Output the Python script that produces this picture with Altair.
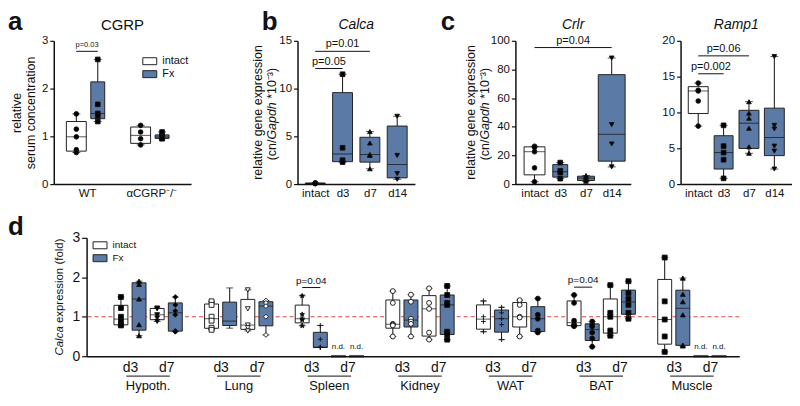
import altair as alt
import numpy as np
import pandas as pd

FONT = "Liberation Sans"
BLUE = "#5b7ba6"
EDGE = "#222222"
INK = "#111111"
RED = "#e5453e"
RECT = "M-1,-0.5L1,-0.5L1,0.5L-1,0.5Z"
STAR = "M0,-1L0.24,-0.31L0.95,-0.31L0.38,0.12L0.59,0.81L0,0.4L-0.59,0.81L-0.38,0.12L-0.95,-0.31L-0.24,-0.31Z"
PLUS = "M-1,0L1,0M0,-1L0,1"

# ================= DATA =================
# --- a: CGRP serum concentration
a_groups = ["WT", "αCGRP⁻/⁻"]
a_conds = ["intact", "Fx"]
a_wt_intact = [1.47, 1.15, 0.99, 0.72, 0.66]
a_wt_fx = [2.61, 1.67, 1.48, 1.43, 1.31]
a_ko_intact = [1.23, 1.09, 0.95, 0.82]
a_ko_fx = [1.09, 1.01, 0.99, 0.98, 0.96, 0.95]
a_pvals = [("WT", "p=0.03", 2.78)]

# --- b: Calca
b_cats = ["intact", "d3", "d7", "d14"]
b_intact = [0.12, 0.10, 0.08, 0.06, 0.05]
b_d3 = [11.5, 3.8, 2.5, 2.3]
b_d7 = [5.5, 4.3, 3.1, 3.0, 1.6]
b_d14 = [7.1, 3.0, 1.1, 0.5]
b_pvals = [("intact", "d7", 13.9, "p=0.01"), ("intact", "d3", 12.1, "p=0.05")]

# --- c: Crlr
crlr_intact = [26.4, 25.6, 22.6, 11.3, 1.6]
crlr_d3 = [15.0, 9.3, 8.0, 3.8]
crlr_d7 = [6.0, 5.0, 4.2, 3.0, 2.0]
crlr_d14 = [88.0, 41.5, 28.0, 12.0]
crlr_pvals = [("intact", "d14", 95.3, "p=0.04")]

# --- c: Ramp1
ramp_intact = [14.1, 13.1, 13.0, 11.6, 8.1]
ramp_d3 = [8.2, 5.3, 4.4, 3.4, 0.8]
ramp_d7 = [11.5, 9.9, 9.2, 7.8, 5.2, 4.3]
ramp_d14 = [17.8, 8.2, 7.7, 5.3, 4.6, 2.1]
ramp_pvals = [("intact", "d7", 17.9, "p=0.06"), ("intact", "d3", 15.4, "p=0.002")]

# --- d: Calca expression in tissues (order: d3 intact, d3 Fx, d7 intact, d7 Fx); None = n.d.
d_groups = ["Hypoth.", "Lung", "Spleen", "Kidney", "WAT", "BAT", "Muscle"]
d_days = ["d3", "d7"]
d_conds = ["intact", "Fx"]
d_hypoth = [[1.5, 1.22, 1.0, 0.88, 0.8, 0.78], [1.9, 1.82, 1.45, 0.8, 0.52],
            [1.22, 1.2, 1.05, 0.97, 0.88], [1.5, 1.3, 1.15, 1.05, 0.64, 0.62]]
d_lung = [[1.39, 1.3, 1.0, 0.9, 0.72, 0.67], [1.73, 1.25, 0.9, 0.88, 0.8, 0.71],
          [1.68, 1.2, 0.79, 0.72, 0.64], [1.41, 1.35, 1.27, 1.0, 0.54]]
d_spleen = [[1.53, 1.06, 0.95, 0.92, 0.77], [0.78, 0.43, 0.23, 0.22, 0.22], None, None]
d_kidney = [[1.65, 1.35, 0.82, 0.8, 0.78, 0.5], [1.56, 1.38, 0.95, 0.88, 0.82, 0.5],
            [1.72, 1.35, 1.2, 0.6, 0.42], [1.78, 1.55, 1.35, 1.3, 0.62, 0.55, 0.42]]
d_wat = [[1.4, 1.0, 0.88, 0.62], [1.24, 1.1, 0.95, 0.8, 0.42],
         [1.42, 1.3, 1.0, 0.98, 0.5], [1.46, 1.05, 0.95, 0.65, 0.6]]
d_bat = [[1.55, 1.35, 0.9, 0.8, 0.78, 0.76], [0.88, 0.8, 0.75, 0.6, 0.45, 0.24],
         [1.8, 1.1, 1.0, 0.65, 0.52], [1.9, 1.6, 1.45, 1.3, 1.1, 0.95]]
d_muscle = [[2.5, 1.39, 0.93, 0.5, 0.11], [1.98, 1.57, 1.38, 1.05, 0.28, 0.26], None, None]
d_values = [d_hypoth, d_lung, d_spleen, d_kidney, d_wat, d_bat, d_muscle]
d_pvals = [("Spleen", 1.74, "p=0.04"), ("BAT", 1.75, "p=0.04")]
d_reference = 1.0

# axis titles: (text, italic) pieces per line
gene_title_lines = [[("relative gene expression", False)],
                    [("(cn/", False), ("Gapdh", True), (" *10⁻³)", False)]]
d_title_pieces = [("Calca", True), (" expression (fold)", False)]

# ================= STYLE =================
a_markers = [("circle", "black"), ("square", "black"), ("circle", "black"), ("square", "black")]
a_widths = [20, 14, 20, 14]
top_markers = [("circle", "black"), ("square", "black"), ("triangle-up", "black"), ("triangle-down", "black")]
b_widths = [20, 20, 20, 20]
crlr_widths = [21, 15, 17, 27]
ramp_widths = [20, 19, 20, 20]
d_markers = [
    [("square", "black"), ("triangle-up", "black"), ("triangle-down", "black"), ("diamond", "black")],
    [("square", "white"), (None, None), ("triangle-down", "white"), ("diamond", "white")],
    [(STAR, "black"), (PLUS, "transparent"), (None, None), (None, None)],
    [("circle", "white"), ("circle", "white"), ("circle", "white"), ("square", "black")],
    [(PLUS, "transparent"), (PLUS, "transparent"), ("circle", "white"), ("circle", "black")],
    [("circle", "black"), ("circle", "black"), ("square", "black"), ("square", "black")],
    [("square", "black"), ("triangle-up", "black"), (None, None), (None, None)],
]

AX = dict(grid=False, domainColor=INK, domainWidth=1.5, tickColor=INK, tickWidth=1.2,
          labelColor=INK, labelFont=FONT, titleFont=FONT, titleFontWeight="normal",
          titleColor=INK)

TOP_H = 144
D_W, D_H = 656, 119
LETTER_FS = 26

# Arial / Liberation Sans advance widths (1/1000 em) for title layout
W_AR = {' ': 278, '(': 333, ')': 333, '/': 278, '*': 389, '0': 556, '1': 556, '⁻': 584, '³': 333,
        'C': 722, 'G': 778, 'a': 556, 'c': 500, 'd': 556, 'e': 556, 'f': 278, 'g': 556, 'h': 556,
        'i': 222, 'l': 222, 'n': 556, 'o': 556, 'p': 556, 'r': 333, 's': 500, 't': 278, 'v': 500,
        'x': 500}


def tw(s, fs):
    return sum(W_AR.get(ch, 556) for ch in s) * fs / 1000.0


def stats(vals):
    v = np.asarray(vals, dtype=float)
    q1, med, q3 = np.percentile(v, [25, 50, 75], method="weibull")
    return {"mn": v.min(), "q1": q1, "med": med, "q3": q3, "mx": v.max()}


def build(pos, conds, vals, widths, markers):
    S, P = [], []
    for p, c, v, w, (sh, fl) in zip(pos, conds, vals, widths, markers):
        if v is None:
            continue
        st = stats(v)
        st.update(pos=p, cond=c, bw=w)
        S.append(st)
        if sh is not None:
            for val in v:
                P.append({"pos": p, "val": val, "shape": sh, "pfill": fl})
    return pd.DataFrame(S), pd.DataFrame(P)


def yaxis(ticks, title, lfs=11.5, tfs=12.5):
    return alt.Axis(values=ticks, title=title, tickSize=4, labelFontSize=lfs, labelPadding=2,
                    titleFontSize=tfs, titlePadding=4, titleLineHeight=14, **AX)


def xaxis(values, expr, lfs=11.5, pad=3):
    return alt.Axis(values=values, labelExpr=expr, ticks=False, title=None, labelFontSize=lfs,
                    labelPadding=pad, labelOverlap=False, labelFlush=False, labelAngle=0, **AX)


def text_layer(s, x, y, **kw):
    return alt.Chart(pd.DataFrame({"t": [s]})).mark_text(font=FONT, color=INK, **kw).encode(
        text="t:N", x=alt.value(x), y=alt.value(y))


def vtitle(pieces, x, yc, fs):
    """rotated (bottom-to-top) title made of plain/italic pieces, centred on yc"""
    total = sum(tw(t, fs) for t, _ in pieces)
    y = yc + total / 2.0
    out = []
    for t, it in pieces:
        lead = len(t) - len(t.lstrip(" "))
        y -= tw(" " * lead, fs)
        core = t.strip(" ")
        out.append(text_layer(core, x, y, fontSize=fs, angle=270, align="left", baseline="middle",
                              fontStyle="italic" if it else "normal"))
        y -= tw(core, fs) + tw(" " * (len(t) - lead - len(core)), fs)
    return out


def panel(S, P, PV, xsc, xax, ysc, yax, legend, W, H, cap=8, ptsize=22, pfs=11,
          under=None, over=None, annotations=()):
    X = lambda f: alt.X(f"{f}:Q", scale=xsc, axis=xax)
    Y = lambda f: alt.Y(f"{f}:Q", scale=ysc, axis=yax)
    layers = []
    if under:
        layers += under(X, Y)
    base = alt.Chart(S)
    layers.append(base.mark_rule(color=INK, strokeWidth=1).encode(x=X("pos"), y=Y("mn"), y2="mx"))
    layers.append(base.transform_fold(["mn", "mx"], as_=["k", "v"]).mark_tick(
        orient="horizontal", size=cap, thickness=1, color=INK).encode(x=X("pos"), y=Y("v")))
    layers.append(base.mark_bar(stroke=EDGE, strokeWidth=1).encode(
        x=X("pos"), y=Y("q1"), y2="q3",
        fill=alt.Fill("cond:N", scale=alt.Scale(domain=["intact", "Fx"], range=["white", BLUE]),
                      legend=legend),
        size=alt.Size("bw:Q", scale=None, legend=None)))
    layers.append(base.mark_tick(orient="horizontal", thickness=1, color=INK).encode(
        x=X("pos"), y=Y("med"), size=alt.Size("bw:Q", scale=None, legend=None)))
    if len(P):
        layers.append(alt.Chart(P).mark_point(size=ptsize, stroke=INK, strokeWidth=0.9, opacity=1).encode(
            x=X("pos"), y=Y("val"), shape=alt.Shape("shape:N", scale=None, legend=None),
            fill=alt.Fill("pfill:N", scale=None, legend=None)))
    if PV is not None and len(PV):
        layers.append(alt.Chart(PV).mark_rule(color=INK, strokeWidth=1).encode(
            x=X("x1"), x2="x2", y=Y("y")))
        layers.append(alt.Chart(PV).mark_text(font=FONT, fontSize=pfs, color=INK, baseline="bottom", dy=-2).encode(
            x=X("mid"), y=Y("y"), text="label:N"))
    if over:
        layers += over(X, Y)
    layers += list(annotations)
    return alt.layer(*layers).properties(width=W, height=H)


def legend_box(x, y, fs):
    return alt.Legend(orient="none", legendX=x, legendY=y, title=None, symbolType=RECT,
                      symbolSize=196, symbolStrokeColor=EDGE, symbolStrokeWidth=1,
                      labelFontSize=fs, labelFont=FONT, labelColor=INK, rowPadding=0,
                      labelOffset=5, padding=0, direction="vertical")


def letter(s, x, y):
    return text_layer(s, x, y, fontSize=LETTER_FS, fontWeight="bold", align="left")


# ---- panel a
a_pos = [0, 1, 3, 4]
a_cond_list = [c for g in a_groups for c in a_conds]
aS, aP = build(a_pos, a_cond_list, [a_wt_intact, a_wt_fx, a_ko_intact, a_ko_fx], a_widths, a_markers)
aPV = pd.DataFrame([{"x1": a_groups.index(g) * 3, "x2": a_groups.index(g) * 3 + 1,
                     "mid": a_groups.index(g) * 3 + 0.5, "y": y, "label": lab} for g, lab, y in a_pvals])
a_expr = "[" + ",".join(f"'{g}'" for g in a_groups) + "][floor(datum.value/3)]"
chart_a = panel(aS, aP, aPV,
                alt.Scale(domain=[-0.82, 5.12], nice=False, zero=False),
                xaxis([0.5, 3.5], a_expr),
                alt.Scale(domain=[0, 3], nice=False), yaxis([0, 1, 2, 3], ["relative", "serum concentration"]),
                legend_box(89, 13, 11), 138, TOP_H, cap=8, pfs=7.5,
                annotations=[letter("a", -46, -19),
                             text_layer("CGRP", 69, -16, fontSize=15, align="center")])


def gene_panel(vals, widths, pvals, ydom, yticks, title_x, W, pad, title, let=None, lx=0):
    cats = b_cats
    S, P = build(list(range(len(cats))), ["intact" if c == "intact" else "Fx" for c in cats],
                 vals, widths, top_markers)
    PV = pd.DataFrame([{"x1": cats.index(c1), "x2": cats.index(c2),
                        "mid": (cats.index(c1) + cats.index(c2)) / 2, "y": y, "label": lab}
                       for c1, c2, y, lab in pvals])
    expr = "[" + ",".join(f"'{c}'" for c in cats) + "][datum.value]"
    ann = [text_layer(title, W / 2, -16, fontSize=14, fontStyle="italic", align="center")]
    if title_x is not None:
        for line, xx in zip(gene_title_lines, title_x):
            ann += vtitle(line, xx, TOP_H / 2, 12.5)
    if let:
        ann.append(letter(let, lx, -19))
    return panel(S, P, PV,
                 alt.Scale(domain=[-pad, len(cats) - 1 + pad], nice=False, zero=False),
                 xaxis(list(range(len(cats))), expr),
                 alt.Scale(domain=ydom, nice=False), yaxis(yticks, None),
                 None, W, TOP_H, cap=8, pfs=11, annotations=ann)


chart_b = gene_panel([b_intact, b_d3, b_d7, b_d14], b_widths, b_pvals, [0, 15], [0, 5, 10, 15],
                     (-40, -26), 118, 0.467, "Calca", "b", -36)
chart_c1 = gene_panel([crlr_intact, crlr_d3, crlr_d7, crlr_d14], crlr_widths, crlr_pvals, [0, 100],
                      [0, 20, 40, 60, 80, 100], (-45, -31), 116, 0.55, "Crlr", "c", -75)
chart_c2 = gene_panel([ramp_intact, ramp_d3, ramp_d7, ramp_d14], ramp_widths, ramp_pvals, [0, 20],
                      [0, 5, 10, 15, 20], None, 112, 0.5, "Ramp1")


def spacer(w):
    return alt.Chart(pd.DataFrame({"v": [0]})).mark_point(opacity=0, size=1).encode(
        x=alt.value(0), y=alt.value(0)).properties(width=w, height=1)


# ---- panel d
d_pos, d_cond_list, d_vals, d_w, d_mk, nd_rows = [], [], [], [], [], []
for gi, g in enumerate(d_groups):
    bi = 0
    for di, day in enumerate(d_days):
        for ci, c in enumerate(d_conds):
            p = gi * 5 + bi
            v = d_values[gi][bi]
            if v is None:
                nd_rows.append({"pos": p, "zero": 0, "lab": "n.d."})
            d_pos.append(p)
            d_cond_list.append(c)
            d_vals.append(v)
            d_w.append(14)
            d_mk.append(d_markers[gi][bi])
            bi += 1
dS, dP = build(d_pos, d_cond_list, d_vals, d_w, d_mk)
dPV = pd.DataFrame([{"x1": d_groups.index(g) * 5, "x2": d_groups.index(g) * 5 + 1,
                     "mid": d_groups.index(g) * 5 + 0.5, "y": y, "label": lab} for g, y, lab in d_pvals])
ND = pd.DataFrame(nd_rows)
GRP = pd.DataFrame([{"name": g, "lo": gi * 5 + 0.3, "hi": gi * 5 + 2.7, "mid": gi * 5 + 1.5}
                    for gi, g in enumerate(d_groups)])
REF = pd.DataFrame({"y": [d_reference]})
d_ticks = [gi * 5 + off for gi in range(len(d_groups)) for off in (0.5, 2.5)]
d_expr = "[" + ",".join(f"'{d}'" for d in d_days) + "][floor((datum.value % 5) / 2)]"


def d_under(X, Y):
    return [alt.Chart(REF).mark_rule(stroke=RED, color=RED, strokeDash=[4, 3], strokeWidth=1.2).encode(y=Y("y"))]


def d_over(X, Y):
    return [
        alt.Chart(ND).mark_tick(orient="horizontal", size=15, thickness=2.5, color=INK).encode(
            x=X("pos"), y=Y("zero")),
        alt.Chart(ND).mark_text(font=FONT, fontSize=8, color=INK, baseline="bottom", dy=-5).encode(
            x=X("pos"), y=Y("zero"), text="lab:N"),
        alt.Chart(GRP).mark_rule(color=INK, strokeWidth=1).encode(
            x=X("lo"), x2="hi", y=alt.value(D_H + 20)),
        alt.Chart(GRP).mark_text(font=FONT, fontSize=13, color=INK, baseline="alphabetic").encode(
            x=X("mid"), y=alt.value(D_H + 34), text="name:N"),
    ]


d_yax = alt.Axis(values=[0, 1, 2, 3], title=None, tickSize=5, labelFontSize=14,
                 labelPadding=2, **AX)
chart_d = panel(dS, dP, dPV,
                alt.Scale(domain=[-1.62, 33.84], nice=False, zero=False),
                xaxis(d_ticks, d_expr, lfs=14, pad=4),
                alt.Scale(domain=[0, 3], nice=False), d_yax,
                legend_box(6, 0, 10), D_W, D_H, cap=7, ptsize=24, pfs=10,
                under=d_under, over=d_over,
                annotations=[letter("d", -79, -11)] + vtitle(d_title_pieces, -27, D_H / 2, 11.5))

top = alt.hconcat(chart_a, spacer(107), chart_b, spacer(101), chart_c1, spacer(50), chart_c2,
                  spacing=0, bounds="flush").resolve_scale(fill="independent")
bottom = alt.hconcat(spacer(33), chart_d, spacing=0, bounds="flush").resolve_scale(fill="independent")
chart = alt.vconcat(top, bottom, spacing=15).resolve_scale(fill="independent").properties(
    padding=0).configure_view(stroke=None)
chart.save("out.html", embed_options={"renderer": "svg", "actions": False})
